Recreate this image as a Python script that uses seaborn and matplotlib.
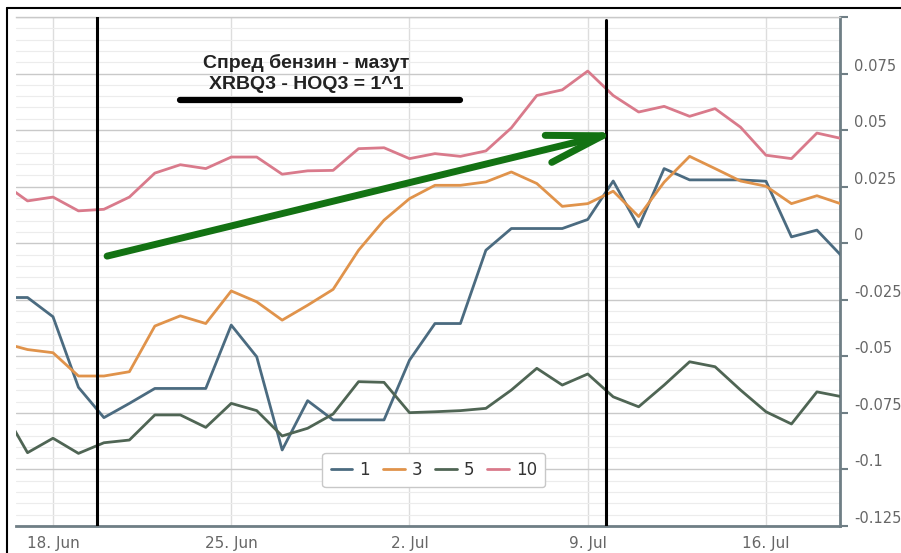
import pandas as pd
import matplotlib.pyplot as plt
import matplotlib.dates as mdates
import matplotlib.transforms as mtransforms
from matplotlib.lines import Line2D
from matplotlib.ticker import MultipleLocator, FuncFormatter
import seaborn as sns

sns.set_style('white')
plt.rcParams['font.family'] = ['DejaVu Sans']

# --- data (daily, 16 Jun - 19 Jul 2013) ---
dates = pd.date_range('2013-06-16', '2013-07-19', freq='D')

spread_1 = [-0.024, -0.024, -0.0325, -0.0637, -0.0771, -0.0708, -0.0642, -0.0642,
            -0.0642, -0.0362, -0.0502, -0.0914, -0.0696, -0.0781, -0.0781, -0.0781,
            -0.0517, -0.0355, -0.0355, -0.0031, 0.0065, 0.0065, 0.0065, 0.0105,
            0.0275, 0.0072, 0.033, 0.028, 0.028, 0.028, 0.0274, 0.0028, 0.0058, -0.006]
spread_3 = [-0.044, -0.047, -0.0484, -0.0587, -0.0587, -0.0568, -0.0366, -0.0321,
            -0.0355, -0.0211, -0.0259, -0.034, -0.0274, -0.0204, -0.0031, 0.0102,
            0.0197, 0.0256, 0.0256, 0.0271, 0.0315, 0.0264, 0.0163, 0.0175,
            0.023, 0.0118, 0.027, 0.0384, 0.033, 0.0275, 0.0252, 0.0175, 0.021, 0.0172]
spread_5 = [-0.073, -0.0926, -0.0862, -0.0929, -0.0882, -0.087, -0.0759, -0.0759,
            -0.0814, -0.0708, -0.074, -0.0852, -0.0818, -0.0755, -0.0612, -0.0615,
            -0.0749, -0.0745, -0.074, -0.073, -0.0649, -0.0553, -0.0627, -0.0578,
            -0.0679, -0.0723, -0.0627, -0.0524, -0.0546, -0.0649, -0.0745, -0.0799,
            -0.0657, -0.0679]
spread_10 = [0.0268, 0.0187, 0.0204, 0.0143, 0.015, 0.0204, 0.031, 0.0347,
             0.033, 0.0381, 0.0381, 0.0305, 0.032, 0.0322, 0.0418, 0.0422,
             0.0374, 0.0396, 0.0384, 0.0408, 0.051, 0.0653, 0.0678, 0.0761,
             0.0653, 0.058, 0.0605, 0.0561, 0.0595, 0.0513, 0.0389, 0.0374, 0.0487, 0.0462]

series_names = ['1', '3', '5', '10']
series_colors = ['#4b6b80', '#e0934b', '#4f6554', '#d97a8b']

title_lines = ['Спред бензин - мазут', 'XRBQ3 - HOQ3 = 1^1']

df = pd.DataFrame({
    'date': list(dates) * 4,
    'value': spread_1 + spread_3 + spread_5 + spread_10,
    'series': sum([[n] * len(dates) for n in series_names], []),
})

# --- figure ---
fig = plt.figure(figsize=(9.01, 5.53), dpi=100)
ax = fig.add_axes([16 / 901, 27 / 553, 824 / 901, 509 / 553])

sns.lineplot(data=df, x='date', y='value', hue='series', hue_order=series_names,
             palette=series_colors, linewidth=2, ax=ax, zorder=3)

ax.set_xlim(pd.Timestamp('2013-06-16 13:08'), pd.Timestamp('2013-07-18 21:45'))
ax.set_ylim(-0.125, 0.1)
ax.set_xlabel('')
ax.set_ylabel('')

# axes look (Highcharts-like)
ax.yaxis.set_major_locator(MultipleLocator(0.025))
ax.yaxis.set_minor_locator(MultipleLocator(0.005))


def fmt_y(v, pos):
    v = round(v, 4)
    if v > 0.09:
        return ''
    if abs(v) < 1e-9:
        return '0'
    return f'{v:g}'


ax.yaxis.set_major_formatter(FuncFormatter(fmt_y))
ax.xaxis.set_major_locator(mdates.WeekdayLocator(byweekday=mdates.TU))
ax.xaxis.set_major_formatter(mdates.DateFormatter('%-d. %b'))

ax.grid(True, which='major', axis='y', color='#c9c9c9', lw=1)
ax.grid(True, which='minor', axis='y', color='#ececec', lw=0.8)
ax.grid(True, which='major', axis='x', color='#dddddd', lw=1)

ax.spines['left'].set_visible(False)
ax.spines['top'].set_color('#c9c9c9')
ax.spines['top'].set_linewidth(1)
for side in ['right', 'bottom']:
    ax.spines[side].set_color('#6f7e85')
    ax.spines[side].set_linewidth(2)

ax.tick_params(axis='y', which='major', left=False, labelleft=False,
               right=True, labelright=True, length=6, width=1.5, color='#6f7e85',
               pad=4, labelsize=10.5, labelcolor='#666666')
ax.tick_params(axis='y', which='minor', left=False, right=False, length=0)
ax.tick_params(axis='x', which='minor', bottom=False, top=False)
ax.tick_params(axis='x', which='major', length=4, width=1, color='#6f7e85',
               pad=3, labelsize=11, labelcolor='#666666')

for lbl in ax.get_yticklabels():
    lbl.set_transform(lbl.get_transform() +
                      mtransforms.ScaledTranslation(0, 9 / 100, fig.dpi_scale_trans))

sns.move_legend(ax, loc='center', bbox_to_anchor=(0.507, 0.11), ncol=4, title=None,
                frameon=True, fancybox=True, edgecolor='#c8c8c8', fontsize=12,
                handlelength=1.3, handletextpad=0.4, columnspacing=0.8,
                borderpad=0.5, labelcolor='#333333', framealpha=1)

# --- hand-drawn annotations ---
ax.axvline(pd.Timestamp('2013-06-19 17:30'), color='black', lw=2.2, zorder=5)
ax.axvline(pd.Timestamp('2013-07-09 17:00'), color='black', lw=2.2, ymax=0.995, zorder=5)

ax.plot([pd.Timestamp('2013-06-23 00:00'), pd.Timestamp('2013-07-03 23:30')],
        [0.0631, 0.0631], color='black', lw=4.5, solid_capstyle='round', zorder=6)

ax.annotate('', xy=(pd.Timestamp('2013-07-10 03:00'), 0.049),
            xytext=(pd.Timestamp('2013-06-20 03:00'), -0.0057),
            arrowprops=dict(arrowstyle='->,head_length=2.0,head_width=0.5',
                            color='#137213', lw=5, mutation_scale=20,
                            shrinkA=0, shrinkB=0, capstyle='round'),
            zorder=6)

text_x = pd.Timestamp('2013-06-27 22:30')
ax.text(text_x, 0.0799, title_lines[0], ha='center', va='center', fontsize=14,
        fontweight='bold', family='Liberation Sans', color='#222222', zorder=7)
ax.text(text_x, 0.0702, title_lines[1], ha='center', va='center', fontsize=14,
        fontweight='bold', family='Liberation Sans', color='#222222', zorder=7)

# outer frame of the screenshot
fig.add_artist(Line2D([7 / 901, 7 / 901], [0, 1 - 8 / 553], transform=fig.transFigure,
                      color='black', lw=1.5))
fig.add_artist(Line2D([7 / 901, 1], [1 - 8 / 553, 1 - 8 / 553], transform=fig.transFigure,
                      color='black', lw=1.5))

fig.savefig('out.png', dpi=100)
